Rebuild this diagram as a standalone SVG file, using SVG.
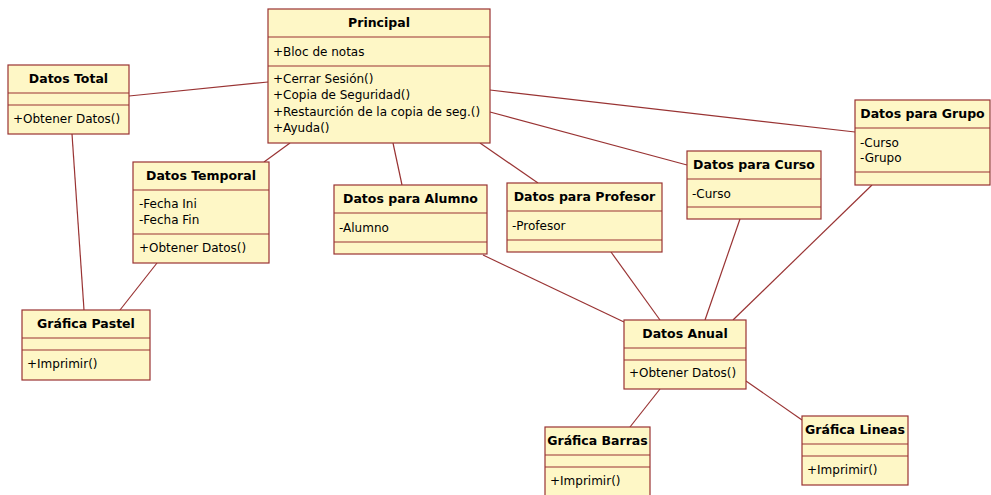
<svg xmlns="http://www.w3.org/2000/svg" width="991" height="495" viewBox="0 0 991 495">
<style>
.box{fill:#FEF7C6;stroke:#993333;stroke-width:1.2}
.div{stroke:#993333;stroke-width:1.2}
.conn line{stroke:#993333;stroke-width:1.2}
text{font-family:"DejaVu Sans",Verdana,sans-serif;font-size:12px;fill:#000}
.t{font-weight:bold;font-size:12.5px;text-anchor:middle}
</style>
<rect width="991" height="495" fill="#fff"/>
<g id="connectors" class="conn">
<line x1="129" y1="96" x2="268" y2="82"/>
<line x1="72" y1="134" x2="84" y2="310"/>
<line x1="157" y1="263" x2="120" y2="310"/>
<line x1="290" y1="143" x2="264" y2="162"/>
<line x1="393" y1="143" x2="402" y2="185"/>
<line x1="480" y1="143" x2="538" y2="183"/>
<line x1="490" y1="112" x2="687" y2="165"/>
<line x1="490" y1="90" x2="855" y2="132"/>
<line x1="483" y1="255" x2="624" y2="322"/>
<line x1="611" y1="252" x2="660" y2="320"/>
<line x1="740" y1="219" x2="705" y2="320"/>
<line x1="872" y1="185" x2="733" y2="320"/>
<line x1="660" y1="389" x2="630" y2="427"/>
<line x1="746" y1="381" x2="802" y2="420"/>
</g>
<g id="principal">
<rect class="box" x="268" y="9" width="222" height="134"/>
<line class="div" x1="268" y1="37" x2="490" y2="37"/>
<line class="div" x1="268" y1="66" x2="490" y2="66"/>
<text class="t" x="379" y="27">Principal</text>
<text x="273" y="56">+Bloc de notas</text>
<text x="273" y="83">+Cerrar Sesión()</text>
<text x="273" y="99">+Copia de Seguridad()</text>
<text x="273" y="116">+Restaurción de la copia de seg.()</text>
<text x="273" y="132">+Ayuda()</text>
</g>
<g id="datos-total">
<rect class="box" x="8" y="65" width="121" height="69"/>
<line class="div" x1="8" y1="93" x2="129" y2="93"/>
<line class="div" x1="8" y1="105" x2="129" y2="105"/>
<text class="t" x="68.5" y="83">Datos Total</text>
<text x="13" y="123">+Obtener Datos()</text>
</g>
<g id="datos-temporal">
<rect class="box" x="133" y="162" width="136" height="101"/>
<line class="div" x1="133" y1="190" x2="269" y2="190"/>
<line class="div" x1="133" y1="234" x2="269" y2="234"/>
<text class="t" x="201" y="180">Datos Temporal</text>
<text x="139" y="208">-Fecha Ini</text>
<text x="139" y="224">-Fecha Fin</text>
<text x="139" y="252">+Obtener Datos()</text>
</g>
<g id="datos-alumno">
<rect class="box" x="334" y="185" width="153" height="69"/>
<line class="div" x1="334" y1="213" x2="487" y2="213"/>
<line class="div" x1="334" y1="242" x2="487" y2="242"/>
<text class="t" x="410.5" y="203">Datos para Alumno</text>
<text x="339" y="232">-Alumno</text>
</g>
<g id="datos-profesor">
<rect class="box" x="507" y="183" width="155" height="69"/>
<line class="div" x1="507" y1="211" x2="662" y2="211"/>
<line class="div" x1="507" y1="240" x2="662" y2="240"/>
<text class="t" x="584.5" y="201">Datos para Profesor</text>
<text x="512" y="230">-Profesor</text>
</g>
<g id="datos-curso">
<rect class="box" x="687" y="151" width="134" height="68"/>
<line class="div" x1="687" y1="179" x2="821" y2="179"/>
<line class="div" x1="687" y1="207" x2="821" y2="207"/>
<text class="t" x="754" y="169">Datos para Curso</text>
<text x="692" y="198">-Curso</text>
</g>
<g id="datos-grupo">
<rect class="box" x="855" y="100" width="135" height="85"/>
<line class="div" x1="855" y1="128" x2="990" y2="128"/>
<line class="div" x1="855" y1="172" x2="990" y2="172"/>
<text class="t" x="922.5" y="118">Datos para Grupo</text>
<text x="860" y="147">-Curso</text>
<text x="860" y="162">-Grupo</text>
</g>
<g id="grafica-pastel">
<rect class="box" x="22" y="310" width="128" height="70"/>
<line class="div" x1="22" y1="338" x2="150" y2="338"/>
<line class="div" x1="22" y1="350" x2="150" y2="350"/>
<text class="t" x="86" y="328">Gráfica Pastel</text>
<text x="27" y="368">+Imprimir()</text>
</g>
<g id="datos-anual">
<rect class="box" x="624" y="320" width="122" height="69"/>
<line class="div" x1="624" y1="348" x2="746" y2="348"/>
<line class="div" x1="624" y1="360" x2="746" y2="360"/>
<text class="t" x="685" y="338">Datos Anual</text>
<text x="629" y="377">+Obtener Datos()</text>
</g>
<g id="grafica-barras">
<rect class="box" x="545" y="427" width="105" height="69"/>
<line class="div" x1="545" y1="455" x2="650" y2="455"/>
<line class="div" x1="545" y1="467" x2="650" y2="467"/>
<text class="t" x="597.5" y="445">Gráfica Barras</text>
<text x="550" y="485">+Imprimir()</text>
</g>
<g id="grafica-lineas">
<rect class="box" x="802" y="416" width="106" height="69"/>
<line class="div" x1="802" y1="444" x2="908" y2="444"/>
<line class="div" x1="802" y1="456" x2="908" y2="456"/>
<text class="t" x="855" y="434">Gráfica Lineas</text>
<text x="807" y="474">+Imprimir()</text>
</g>
</svg>
